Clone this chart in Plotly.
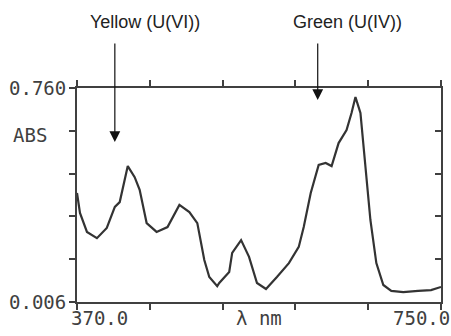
import plotly.graph_objects as go

# Wavelength (nm) and absorbance
wavelength = [370.0, 373.1, 380.4, 390.8, 401.1, 409.5, 414.6, 423.0, 430.2, 435.4,
              442.7, 453.1, 464.5, 476.9, 487.3, 495.6, 502.9, 508.1, 516.4, 518.5,
              528.9, 532.0, 541.3, 549.6, 557.9, 567.3, 578.7, 591.2, 601.5, 606.7,
              614.0, 622.3, 629.6, 635.8, 643.1, 651.4, 656.6, 660.7, 665.9, 671.1,
              676.3, 682.5, 689.8, 698.1, 710.6, 726.1, 739.6, 750.0]
absorbance = [0.390, 0.320, 0.253, 0.231, 0.267, 0.341, 0.358, 0.485, 0.446, 0.401,
              0.284, 0.253, 0.270, 0.348, 0.323, 0.284, 0.154, 0.094, 0.062, 0.073,
              0.112, 0.179, 0.224, 0.165, 0.073, 0.052, 0.094, 0.143, 0.200, 0.270,
              0.390, 0.489, 0.496, 0.485, 0.566, 0.612, 0.672, 0.728, 0.672, 0.496,
              0.295, 0.143, 0.066, 0.045, 0.041, 0.045, 0.048, 0.059]

x_ticks = [370, 446, 522, 598, 674, 750]
y_ticks = [0.006, 0.1568, 0.3076, 0.4584, 0.6092, 0.760]
x_range = [370, 750]
y_range = [0.006, 0.760]

arrow_labels = ["Yellow (U(VI))", "Green (U(IV))"]
arrow_x = [409.5, 621.3]
arrow_tip = [0.748, 0.944]

AX = "#404040"
MONO = "DejaVu Sans Mono"

fig = go.Figure()
fig.add_trace(go.Scatter(x=wavelength, y=absorbance, mode="lines",
                         line=dict(color="#333333", width=2.2), showlegend=False))
fig.add_trace(go.Scatter(x=[x_range[0]], y=[y_range[0]], yaxis="y2", mode="markers",
                         marker=dict(opacity=0), showlegend=False, hoverinfo="skip"))

fig.update_layout(
    width=451, height=336,
    margin=dict(l=77, r=8, t=88, b=34),
    paper_bgcolor="white", plot_bgcolor="white",
    xaxis=dict(range=x_range, tickvals=x_ticks, showticklabels=False,
               ticks="outside", ticklen=6, tickwidth=2, tickcolor=AX,
               showline=True, linecolor=AX, linewidth=2, mirror="ticks",
               showgrid=False, zeroline=False),
    yaxis=dict(range=y_range, tickvals=y_ticks, showticklabels=False,
               ticks="outside", ticklen=6, tickwidth=2, tickcolor=AX,
               showline=True, linecolor=AX, linewidth=2, mirror=True,
               showgrid=False, zeroline=False),
    yaxis2=dict(range=y_range, tickvals=y_ticks, showticklabels=False,
                overlaying="y", side="right",
                ticks="inside", ticklen=6, tickwidth=2, tickcolor=AX,
                showline=False, showgrid=False, zeroline=False),
)

mono = dict(family=MONO, size=19, color=AX)
# axis texts
fig.add_annotation(text="0.760", xref="paper", yref="paper", x=-0.025, y=1.0,
                   xanchor="right", yanchor="middle", showarrow=False, font=mono)
fig.add_annotation(text="0.006", xref="paper", yref="paper", x=-0.025, y=0.0,
                   xanchor="right", yanchor="middle", showarrow=False, font=mono)
fig.add_annotation(text="ABS", xref="paper", yref="paper", x=-0.18, y=0.78,
                   xanchor="left", yanchor="middle", showarrow=False, font=mono)
fig.add_annotation(text="370.0", xref="paper", yref="paper", x=0.063, y=-0.075,
                   xanchor="center", yanchor="middle", showarrow=False, font=mono)
fig.add_annotation(text="λ nm", xref="paper", yref="paper", x=0.5, y=-0.075,
                   xanchor="center", yanchor="middle", showarrow=False, font=mono)
fig.add_annotation(text="750.0", xref="paper", yref="paper", x=0.862, y=-0.075,
                   xanchor="left", yanchor="middle", showarrow=False, font=mono)

# arrows with labels
offsets = [-100, -58]
label_x = [145, 349]
for lab, ax_, tip, off, lx in zip(arrow_labels, arrow_x, arrow_tip, offsets, label_x):
    fig.add_annotation(x=ax_, y=tip, xref="x", yref="paper", text="",
                       showarrow=True, ax=0, ay=off, arrowhead=2, arrowsize=1.8,
                       arrowwidth=1.2, arrowcolor="#111")
    fig.add_annotation(text=lab, xref="paper", yref="paper",
                       x=(lx - 77) / 366, y=(302 - 22) / 214,
                       xanchor="center", yanchor="middle", showarrow=False,
                       font=dict(family="Liberation Sans", size=18, color="#222"))

fig.write_html("out.html")
